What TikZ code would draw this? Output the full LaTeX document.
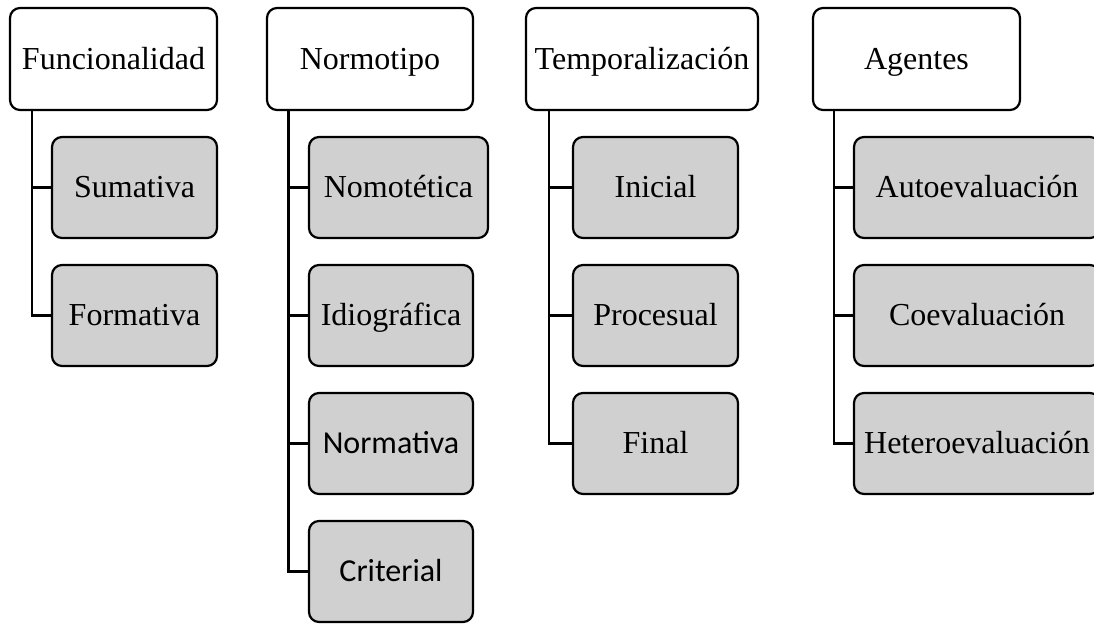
\documentclass[tikz,border=0pt]{standalone}
\usepackage{fontspec}
\setmainfont{Liberation Serif}
\newfontfamily\calfont{Carlito}
\definecolor{boxgray}{RGB}{208,208,208}
\begin{document}
\begin{tikzpicture}[x=1pt,y=-1pt,
  every node/.style={font=\fontsize{32}{38}\selectfont},
  basebox/.style={draw=black, line width=2.2pt, rounded corners=10pt,
    inner sep=0pt, text height=24pt, text depth=4pt},
  headbox/.style={basebox, fill=white, minimum height=102pt},
  itembox/.style={basebox, fill=boxgray, minimum height=101pt},
  link/.style={draw=black, line width=2.2pt}]
\useasboundingbox (0,0) rectangle (1094,624);
\clip (0,0) rectangle (1094,624);

% headers
\node[headbox, minimum width=207pt] (h1) at (113.5,59) {Funcionalidad};
\node[headbox, minimum width=206pt] (h2) at (370,59) {Normotipo};
\node[headbox, minimum width=232pt] (h3) at (642,59) {Temporalización};
\node[headbox, minimum width=207pt] (h4) at (916.5,59) {Agentes};

% column 1
\node[itembox, minimum width=165pt] (a1) at (134.5,187.5) {Sumativa};
\node[itembox, minimum width=165pt] (a2) at (134.5,315.5) {Formativa};

% column 2
\node[itembox, minimum width=179pt] (b1) at (398.5,187.5) {Nomotética};
\node[itembox, minimum width=164pt] (b2) at (391,315.5) {Idiográfica};
\node[itembox, minimum width=164pt] (b3) at (391,443.5) {\calfont Normativa};
\node[itembox, minimum width=164pt] (b4) at (391,571.5) {\calfont Criterial};

% column 3
\node[itembox, minimum width=165pt] (c1) at (655.5,187.5) {Inicial};
\node[itembox, minimum width=165pt] (c2) at (655.5,315.5) {Procesual};
\node[itembox, minimum width=165pt] (c3) at (655.5,443.5) {Final};

% column 4
\node[itembox, minimum width=246pt] (d1) at (977,187.5) {Autoevaluación};
\node[itembox, minimum width=246pt] (d2) at (977,315.5) {Coevaluación};
\node[itembox, minimum width=246pt] (d3) at (977,443.5) {Heteroevaluación};

% spine start points under each header
\coordinate (s1) at (32,110);
\coordinate (s2) at (288.5,110);
\coordinate (s3) at (549,110);
\coordinate (s4) at (834,110);

% connectors
\draw[link] (s1) |- (a2.west);
\draw[link] (s1) |- (a1.west);
\draw[link] (s2) |- (b4.west);
\draw[link] (s2) |- (b1.west);
\draw[link] (s2) |- (b2.west);
\draw[link] (s2) |- (b3.west);
\draw[link] (s3) |- (c3.west);
\draw[link] (s3) |- (c1.west);
\draw[link] (s3) |- (c2.west);
\draw[link] (s4) |- (d3.west);
\draw[link] (s4) |- (d1.west);
\draw[link] (s4) |- (d2.west);
\end{tikzpicture}
\end{document}
